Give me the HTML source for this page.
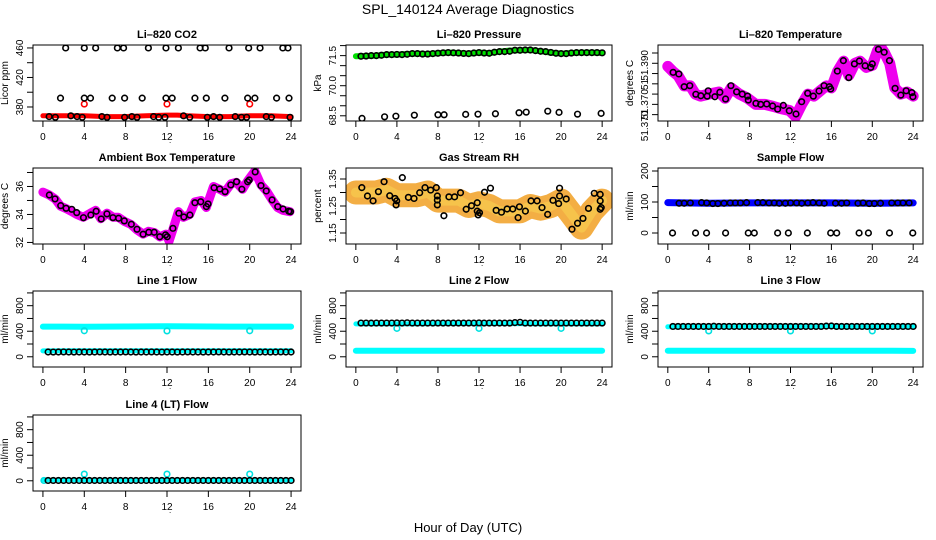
<!DOCTYPE html>
<html><head><meta charset="utf-8"><style>
html,body{margin:0;padding:0;background:#fff;}
svg{display:block;font-family:"Liberation Sans",sans-serif;}
</style></head><body>
<svg id="chart" width="936" height="540" viewBox="0 0 936 540">
<text x="468" y="14" font-size="14" text-anchor="middle">SPL_140124  Average Diagnostics</text>
<text x="468" y="532" font-size="13" text-anchor="middle">Hour of Day (UTC)</text>
</svg>
<script>
// ---------- data ----------
const xTicks = [0,4,8,12,16,20,24];
const flowH = [0.5,1,1.5,2,2.5,3,3.5,4,4.5,5,5.5,6,6.5,7,7.5,8,8.5,9,9.5,10,10.5,11,11.5,12,12.5,13,13.5,14,14.5,15,15.5,16,16.5,17,17.5,18,18.5,19,19.5,20,20.5,21,21.5,22,22.5,23,23.5,24];
const bandH = [0,2,4,6,8,10,12,14,16,18,20,22,24];
const dipH = [4,12,20];

// CO2
const co2TopH = [2.2,4.0,5.1,7.2,7.8,10.2,11.9,13.1,15.2,15.7,18.0,19.9,21.0,23.2,23.7];
const co2TopV = [460,460,460,460,460,460,460,460,460,460,460,460,460,460,460];
const co2MidH = [1.7,4.0,4.6,6.7,7.9,9.6,11.9,12.5,14.7,15.8,17.6,19.8,20.5,22.6,23.8];
const co2MidV = [392,392,392,392,392,392,392,392,392,392,392,392,392,392,392];
const co2LowH = [0.6,1.2,2.7,3.3,3.8,5.7,6.2,7.9,8.6,9.1,10.7,11.2,11.8,13.6,14.2,15.9,16.5,17.1,18.6,19.2,19.7,21.6,22.1,23.9];
const co2LowV = [367,366,368,367,366,367,366,366,367,366,367,366,366,368,366,366,367,366,367,366,366,367,366,366];
const co2RedH = [4,12,20];
const co2RedV = [384,384,384];
const co2BandH = [0,2,4,6,8,10,12,13,14,16,18,20,22,24];
const co2BandV = [368,368,368,367,367,368,369,369,368,367,367,368,368,367];

// Pressure
const presBandH = [0,1,2,3,4,5,6,7,8,9,10,11,12,13,14,15,16,17,18,19,20,21,22,23,24];
const presBandV = [71.47,71.48,71.5,71.55,71.55,71.58,71.6,71.58,71.62,71.65,71.63,71.6,71.65,71.62,71.7,71.75,71.77,71.78,71.72,71.65,71.6,71.63,71.65,71.65,71.63];
const presCircV = [71.47,71.48,71.5,71.5,71.52,71.55,71.55,71.56,71.55,71.57,71.6,71.6,71.58,71.58,71.6,71.62,71.64,71.65,71.64,71.63,71.61,71.6,71.63,71.65,71.63,71.62,71.67,71.7,71.7,71.72,71.77,71.77,71.78,71.78,71.75,71.72,71.7,71.66,71.62,71.6,71.6,71.63,71.65,71.65,71.65,71.65,71.65,71.64];
const presLowH = [0.6,2.8,3.9,5.7,8.0,8.6,10.7,11.9,13.6,15.9,16.6,18.7,19.8,21.6,23.9];
const presLowV = [68.37,68.45,68.48,68.53,68.55,68.55,68.57,68.58,68.6,68.65,68.68,68.73,68.67,68.58,68.62];

// Li-820 temperature
const ltH = [0.52,1.08,1.6,2.15,2.74,3.23,3.85,3.95,4.6,5.09,5.65,6.17,6.73,7.28,7.8,7.87,8.62,9.08,9.67,10.25,10.74,11.3,11.88,12.54,13.09,13.68,14.23,14.79,15.28,15.8,15.93,16.58,17.17,17.7,18.25,18.74,19.3,19.85,20.0,20.6,21.16,21.68,22.23,22.79,23.31,23.87,23.97];
const ltV = [51.3856,51.3848,51.3786,51.3791,51.3749,51.3742,51.374,51.3766,51.3737,51.3759,51.3726,51.3791,51.3761,51.375,51.374,51.3721,51.3705,51.37,51.3702,51.3692,51.3677,51.3695,51.3669,51.3653,51.3713,51.3754,51.374,51.3765,51.3791,51.3786,51.3775,51.3862,51.3913,51.383,51.3897,51.3911,51.3888,51.388,51.3897,51.3968,51.3954,51.3913,51.3778,51.3745,51.3766,51.3757,51.3737];
const ltBandH = [0,0.5,1,1.6,2.2,2.7,3.2,4,5,5.6,6.2,7,7.8,8.6,9.5,10.3,11,11.9,12.5,13.1,13.7,14.3,15,15.5,16,16.6,17.2,17.7,18.3,18.8,19.4,20,20.5,20.8,21.2,21.7,22.2,22.8,23.4,24];
const ltBandV = [51.3885,51.386,51.384,51.379,51.379,51.375,51.374,51.375,51.376,51.373,51.378,51.375,51.373,51.370,51.370,51.369,51.368,51.367,51.364,51.370,51.375,51.374,51.377,51.379,51.378,51.386,51.391,51.384,51.390,51.391,51.388,51.389,51.396,51.398,51.395,51.390,51.378,51.375,51.376,51.374];

// Ambient box temperature
const ambH = [0.62,1.17,1.72,2.24,2.79,3.27,3.92,4.63,5.15,5.64,6.19,6.77,7.32,7.87,8.55,9.1,9.69,10.24,10.76,11.3,11.86,12.02,12.57,13.15,13.63,14.22,14.7,15.26,15.81,15.97,16.55,17.1,17.62,18.17,18.73,19.24,19.8,19.95,20.53,21.09,21.6,22.16,22.71,23.23,23.78,23.94];
const ambV = [35.39,35.11,34.63,34.44,34.37,34.13,33.77,33.96,34.23,33.68,34.04,33.77,33.73,33.54,33.3,32.94,32.59,32.73,32.73,32.41,32.54,32.41,33.01,34.09,33.82,33.96,34.84,34.91,34.56,34.75,35.91,35.82,35.63,36.11,36.34,35.8,36.34,36.46,37.04,36.06,35.68,35.04,34.56,34.39,34.23,34.2];
const ambBandH = [0,0.6,1.2,1.7,2.3,2.8,3.3,3.9,4.6,5.1,5.6,6.2,6.8,7.3,7.9,8.5,9.1,9.7,10.2,10.8,11.3,11.9,12.2,12.6,13.1,13.6,14.2,14.7,15.3,15.8,16.5,17.1,17.6,18.2,18.7,19.3,19.8,20.5,21.1,21.6,22.2,22.7,23.2,23.9];
const ambBandV = [35.6,35.4,35.1,34.6,34.4,34.2,34.0,33.8,34.1,34.3,33.7,34.1,33.8,33.8,33.5,33.3,32.9,32.6,32.8,32.7,32.4,32.6,32.1,33.0,34.2,33.8,34.0,34.9,35.0,34.5,36.0,35.8,35.6,36.2,36.3,35.8,36.4,37.1,36.1,35.7,35.0,34.5,34.3,34.2];

// Gas stream RH
const rhH = [0.58,1.13,1.68,2.2,2.75,3.3,3.82,3.98,3.92,4.53,5.12,5.67,6.22,6.74,7.29,7.84,7.94,7.94,7.94,8.58,9.07,9.62,10.2,10.75,11.27,11.83,11.83,11.92,12.05,12.54,13.12,13.67,14.19,14.74,15.29,15.81,15.94,16.52,17.07,17.66,18.14,18.69,19.21,19.76,19.85,19.85,20.5,21.06,21.6,22.13,22.67,23.23,23.81,23.81,23.81,23.91];
const rhV = [1.318,1.287,1.269,1.303,1.34,1.288,1.278,1.269,1.254,1.355,1.282,1.278,1.299,1.318,1.309,1.318,1.287,1.272,1.254,1.214,1.284,1.284,1.299,1.238,1.251,1.262,1.231,1.217,1.225,1.301,1.316,1.234,1.227,1.239,1.239,1.207,1.247,1.231,1.269,1.269,1.244,1.219,1.271,1.259,1.316,1.287,1.276,1.164,1.186,1.204,1.241,1.297,1.293,1.269,1.238,1.244];
const rhBandH = [0,1,2,3,4,5,6,7,8,9,10,11,12,13,14,15,16,17,18,19,20,21,22,23,24];
const rhBandV = [1.30,1.30,1.30,1.31,1.29,1.29,1.29,1.30,1.27,1.27,1.27,1.25,1.26,1.25,1.23,1.23,1.23,1.25,1.24,1.25,1.27,1.22,1.17,1.23,1.27];

// Sample flow
const sfBandH = [0,4,8,12,16,20,24];
const sfBandV = [98,96,97,97,97,96,97];
const sfTopH = [1.1,1.6,2.2,3.3,3.8,4.4,4.9,5.5,6.1,6.6,7.1,7.7,8.8,9.3,9.9,10.4,10.9,11.5,12.0,12.6,13.1,13.7,14.2,14.8,15.3,16.4,17.0,17.5,18.6,19.1,19.7,20.2,20.8,21.9,22.5,23.0,23.6];
const sfTopV = [96,96,97,98,97,95,95,96,97,97,97,98,98,98,97,97,96,96,97,97,96,97,98,97,96,96,96,97,96,97,95,95,96,97,97,97,97];
const sfZeroH = [0.46,2.71,3.79,5.65,7.87,8.46,10.74,11.79,13.65,15.93,16.52,18.71,19.62,21.68,23.96];
const sfZeroV = [0,0,0,0,0,0,0,0,0,0,0,0,0,0,0];

// Line flows
const l1Black = [75,74,75,76,75,74,75,75,74,75,76,75,74,75,75,76,75,74,75,75,76,75,74,75,75,74,75,76,75,75,74,75,75,76,75,74,75,75,76,75,74,75,75,74,75,76,75,75];
const l1BandHi = [472,472,470,472,474,476,478,476,474,472,472,472,472];
const l1BandLo = [92,94,94,94,94,94,94,94,94,94,94,94,94];
const l1Dip = [408,405,408];
const l2Black = [528,528,527,528,528,528,528,530,528,532,528,528,528,528,528,528,528,528,528,528,528,528,528,530,528,528,528,528,528,528,535,540,528,528,528,528,528,528,528,528,528,528,528,528,528,528,528,528];
const l2BandHi = [515,515,515,515,520,520,520,520,520,515,515,515,515];
const l2BandLo = [95,95,95,95,95,95,95,95,95,95,95,95,95];
const l2Dip = [445,445,445];
const l3Black = [475,475,475,475,475,475,475,475,478,475,475,475,475,475,475,475,475,475,475,475,475,475,475,475,475,475,475,475,475,475,480,482,475,475,475,475,475,475,475,475,475,475,475,475,475,475,475,475];
const l3BandHi = [470,470,470,470,475,475,475,478,475,470,470,470,470];
const l3BandLo = [95,95,95,95,95,95,95,95,95,95,95,95,92];
const l3Dip = [405,405,405];
const l4Black = [5,5,5,5,5,5,5,5,5,5,5,5,5,5,5,5,5,5,5,5,5,5,5,5,5,5,5,5,5,5,5,5,5,5,5,5,5,5,5,5,5,5,5,5,5,5,5,5];
const l4Band = [8,8,8,8,8,8,8,8,8,8,8,8,8];
const l4Dip = [105,105,105];
const l4StartH = [0.1];
const l4StartV = [5];

// ---------- drawing ----------
const NS = "http://www.w3.org/2000/svg";
const svg = document.getElementById("chart");
function mk(tag, attrs, parent){
  const e = document.createElementNS(NS, tag);
  for (const k in attrs) e.setAttribute(k, attrs[k]);
  (parent||svg).appendChild(e);
  return e;
}
const colX = [[33,301],[346,612],[658,923]];
const rowY = [[45,121],[168,244],[291,367],[415,491]];

function makePanel(name, col, row, title, ylab, ydom, yticks, ylabels){
  const [x0,x1] = colX[col], [y0,y1] = rowY[row];
  const g = mk("g", {});
  
  
  const sx = h => x0 + (h + 0.96) / 25.92 * (x1 - x0);
  const sy = v => y1 - (v - ydom[0]) / (ydom[1] - ydom[0]) * (y1 - y0);
  const clip = mk("clipPath", {id: "clip-" + name}, g);
  mk("rect", {x: x0, y: y0, width: x1 - x0, height: y1 - y0}, clip);
  const plot = mk("g", {"clip-path": "url(#clip-" + name + ")"}, g);
  
  
  const t = mk("text", {x: (x0 + x1) / 2, y: y0 - 7, "font-size": 11, "font-weight": "bold", "text-anchor": "middle"}, g);
  t.textContent = title;
  
  
  const yl = mk("text", {x: x0 - 25, y: (y0 + y1) / 2, "font-size": 10, "text-anchor": "middle", transform: `rotate(-90 ${x0 - 25} ${(y0 + y1) / 2})`}, g);
  yl.textContent = ylab;
  
  
  xTicks.forEach(h => {
    const x = sx(h);
    mk("line", {x1: x, y1: y1, x2: x, y2: y1 + 6, stroke: "#000"}, g);
    const tl = mk("text", {x: x, y: y1 + 19, "font-size": 10, "text-anchor": "middle"}, g);
    tl.textContent = h;
    
    
  });
  const dot = mk("text", {x: sx(12.3), y: y1 + 22, "font-size": 8, "text-anchor": "middle"}, g);
  dot.textContent = ".";
  yticks.forEach(v => {
    const y = sy(v);
    mk("line", {x1: x0, y1: y, x2: x0 - 6, y2: y, stroke: "#000"}, g);
  });
  ylabels.forEach(lb => {
    const y = sy(lb[0]);
    const tl = mk("text", {x: x0 - 10, y: y, "font-size": 10, "text-anchor": "middle", transform: `rotate(-90 ${x0 - 10} ${y})`}, g);
    tl.textContent = lb[1];
    
    
  });
  const box = mk("rect", {x: x0, y: y0, width: x1 - x0, height: y1 - y0, fill: "none", stroke: "#000", "stroke-width": 1}, g);
  
  
  return {sx, sy, plot, g, name};
}
function band(p, H, V, color, w, op){
  const pts = H.map((h, i) => p.sx(h).toFixed(1) + "," + p.sy(V[i]).toFixed(1)).join(" ");
  const pl = mk("polyline", {points: pts, fill: "none", stroke: color, "stroke-width": w, "stroke-linejoin": "round", "stroke-linecap": "round", opacity: op || 1}, p.plot);
  
  
}
function circles(p, H, V, color){
  H.forEach((h, i) => {
    const c = mk("circle", {cx: p.sx(h), cy: p.sy(V[i]), r: 2.8, fill: "none", stroke: color, "stroke-width": 1.6}, p.plot);
    
    
  });
}

// Row 1
let p = makePanel("co2", 0, 0, "Li\u2013820 CO2", "Licor ppm", [361,464], [380,400,420,440,460], [[380,"380"],[420,"420"],[460,"460"]]);
band(p, co2BandH, co2BandV, "#ff0000", 5);
circles(p, co2RedH, co2RedV, "#ff0000");
circles(p, co2TopH, co2TopV, "#000");
circles(p, co2MidH, co2MidV, "#000");
circles(p, co2LowH, co2LowV, "#000");

p = makePanel("pressure", 1, 0, "Li\u2013820 Pressure", "kPa", [68.24,72.03], [68.5,69,69.5,70,70.5,71,71.5,72], [[68.5,"68.5"],[70,"70.0"],[71.5,"71.5"]]);
band(p, presBandH, presBandV, "#00e000", 6);
circles(p, flowH, presCircV, "#000");
circles(p, presLowH, presLowV, "#000");

p = makePanel("li820-temp", 2, 0, "Li\u2013820 Temperature", "degrees C", [51.3619,51.3989], [51.365,51.370,51.375,51.380,51.385,51.390,51.395], [[51.3595,"51.370"],[51.370,"51.370"],[51.3797,"51"],[51.389,"51.390"]]);
band(p, ltBandH, ltBandV, "#ee00ee", 11);
circles(p, ltH, ltV, "#000");

// Row 2
p = makePanel("ambient-temp", 0, 1, "Ambient Box Temperature", "degrees C", [31.89,37.32], [32,33,34,35,36,37], [[32,"32"],[34,"34"],[36,"36"]]);
band(p, ambBandH, ambBandV, "#ee00ee", 9);
circles(p, ambH, ambV, "#000");

p = makePanel("gas-rh", 1, 1, "Gas Stream RH", "percent", [1.1093,1.3907], [1.15,1.2,1.25,1.3,1.35], [[1.15,"1.15"],[1.25,"1.25"],[1.35,"1.35"]]);
band(p, rhBandH, rhBandV, "#f2a530", 24, 0.9);
band(p, rhBandH, rhBandV, "#f8d050", 10, 0.6);
circles(p, rhH, rhV, "#000");

p = makePanel("sample-flow", 2, 1, "Sample Flow", "ml/min", [-35.5,209.7], [0,50,100,150,200], [[0,"0"],[100,"100"],[200,"200"]]);
band(p, sfBandH, sfBandV, "#0000ff", 7);
circles(p, sfTopH, sfTopV, "#000");
circles(p, sfZeroH, sfZeroV, "#000");

// Rows 3-4
const fdom = [-160,1030], fticks = [0,200,400,600,800,1000], flab = [[0,"0"],[400,"400"],[800,"800"]];
p = makePanel("line1-flow", 0, 2, "Line 1 Flow", "ml/min", fdom, fticks, flab);
band(p, bandH, l1BandHi, "#00ffff", 6);
band(p, bandH, l1BandLo, "#00ffff", 5);
circles(p, dipH, l1Dip, "#00e0e0");
circles(p, flowH, l1Black, "#000");

p = makePanel("line2-flow", 1, 2, "Line 2 Flow", "ml/min", fdom, fticks, flab);
band(p, bandH, l2BandHi, "#00ffff", 5);
band(p, bandH, l2BandLo, "#00ffff", 6);
circles(p, dipH, l2Dip, "#00e0e0");
circles(p, flowH, l2Black, "#000");

p = makePanel("line3-flow", 2, 2, "Line 3 Flow", "ml/min", fdom, fticks, flab);
band(p, bandH, l3BandHi, "#00ffff", 5);
band(p, bandH, l3BandLo, "#00ffff", 6);
circles(p, dipH, l3Dip, "#00e0e0");
circles(p, flowH, l3Black, "#000");

p = makePanel("line4-flow", 0, 3, "Line 4 (LT) Flow", "ml/min", fdom, fticks, flab);
band(p, bandH, l4Band, "#00ffff", 4);
circles(p, dipH, l4Dip, "#00e0e0");
circles(p, l4StartH, l4StartV, "#00e0e0");
circles(p, flowH, l4Black, "#000");
</script>
</body></html>
